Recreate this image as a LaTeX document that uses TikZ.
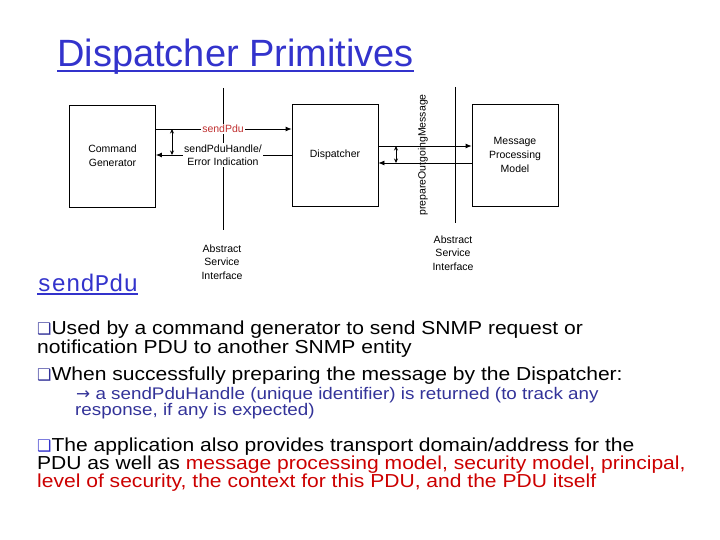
\documentclass[tikz,border=0pt]{standalone}
\usepackage{fontspec}
\setmainfont{Liberation Sans}
\newfontfamily\bodyfont[FakeStretch=1.12]{Liberation Sans}
\newfontfamily\symfont{DejaVu Sans}
\newfontfamily\courfont{Liberation Mono}
\usetikzlibrary{arrows.meta}
\definecolor{titleblue}{RGB}{51,51,204}
\definecolor{navy}{RGB}{51,51,153}
\definecolor{redtxt}{RGB}{204,0,0}
\definecolor{lblred}{RGB}{192,48,48}
\newcommand{\sqbul}[1]{{\symfont\color{#1}\fontsize{16}{16}\selectfont ❑}}
\begin{document}
\begin{tikzpicture}[x=1pt,y=-1pt,
  box/.style={draw,line width=0.8pt,minimum width=86pt,minimum height=102pt,align=center,font=\fontsize{10.5}{14}\selectfont,inner sep=0pt},
  lbl/.style={align=center,font=\fontsize{10.5}{13.5}\selectfont,inner sep=1pt},
  arr/.style={line width=0.8pt,-{Latex[length=6pt,width=5pt]}},
  darr/.style={line width=0.8pt,{Stealth[length=4.5pt,width=4pt]}-{Stealth[length=4.5pt,width=4pt]}},
  body/.style={anchor=base west,inner sep=0pt,font=\bodyfont\fontsize{18.8}{18.8}\selectfont},
  small/.style={anchor=base west,inner sep=0pt,font=\bodyfont\fontsize{16.8}{16.8}\selectfont,text=navy}]
\useasboundingbox (0,0) rectangle (720,540);
% title
\node[anchor=base west,inner sep=0pt,text=titleblue,font=\fontsize{38}{38}\selectfont] (title) at (57,67) {Dispatcher Primitives};
\draw[titleblue,line width=2pt] ([yshift=-4.5pt]title.base west) -- ([yshift=-4.5pt]title.base east);
% boxes
\node[box] (cg) at (112.5,156) {Command\\Generator};
\node[box] (disp) at (335,155) {Dispatcher};
\node[box] (mpm) at (515,155) {Message\\Processing\\Model};
% interface lines
\coordinate (a1t) at (223,88);
\coordinate (a1b) at (223,230);
\coordinate (a2t) at (455,87);
\coordinate (a2b) at (455,223);
\draw[line width=0.8pt] (a1t) -- (a1b);
\draw[line width=0.8pt] (a2t) -- (a2b);
% left arrows
\coordinate (y1) at (0,129);
\coordinate (y2) at (0,155);
\draw[arr] (cg.east |- y1) -- (disp.west |- y1);
\draw[arr] (disp.west |- y2) -- (cg.east |- y2);
\coordinate (d1t) at (172,129);
\coordinate (d1b) at (172,155);
\draw[darr] (d1t) -- (d1b);
\node[lbl,fill=white,text=lblred] (sp) at (223,129) {sendPdu};
\node[lbl,fill=white] (sph) at (223,155) {sendPduHandle/\\Error Indication};
% right arrows
\coordinate (y3) at (0,146);
\coordinate (y4) at (0,163);
\draw[arr] (disp.east |- y3) -- (mpm.west |- y3);
\draw[arr] (mpm.west |- y4) -- (disp.east |- y4);
\coordinate (d2t) at (396,146);
\coordinate (d2b) at (396,163);
\draw[darr] (d2t) -- (d2b);
\node[lbl,rotate=90] (pom) at (423,155) {prepareOutgoingMessage};
% interface labels
\node[lbl] (asi1) at (222,262) {Abstract\\Service\\Interface};
\node[lbl] (asi2) at (453,253) {Abstract\\Service\\Interface};
% sendPdu
\node[anchor=base west,inner sep=0pt,text=titleblue,font=\courfont\fontsize{24}{24}\selectfont] (spdu) at (37,291) {sendPdu};
\draw[titleblue,line width=1.2pt] ([yshift=-3pt]spdu.base west) -- ([yshift=-3pt]spdu.base east);
% body text
\node[body] (l1) at (37,334) {\sqbul{navy}Used by a command generator to send SNMP request or};
\node[body] (l2) at (37,353) {notification PDU to another SNMP entity};
\node[body] (l3) at (37,380) {\sqbul{navy}When successfully preparing the message by the Dispatcher:};
\node[small] (l4) at (76,399) {{\symfont →} a sendPduHandle (unique identifier) is returned (to track any};
\node[small] (l5) at (75,415) {response, if any is expected)};
\node[body] (l6) at (37,451) {\sqbul{titleblue}The application also provides transport domain/address for the};
\node[body] (l7) at (37,469) {PDU as well as \textcolor{redtxt}{message processing model, security model, principal,}};
\node[body,text=redtxt] (l8) at (37,487) {level of security, the context for this PDU, and the PDU itself};
\end{tikzpicture}
\end{document}
